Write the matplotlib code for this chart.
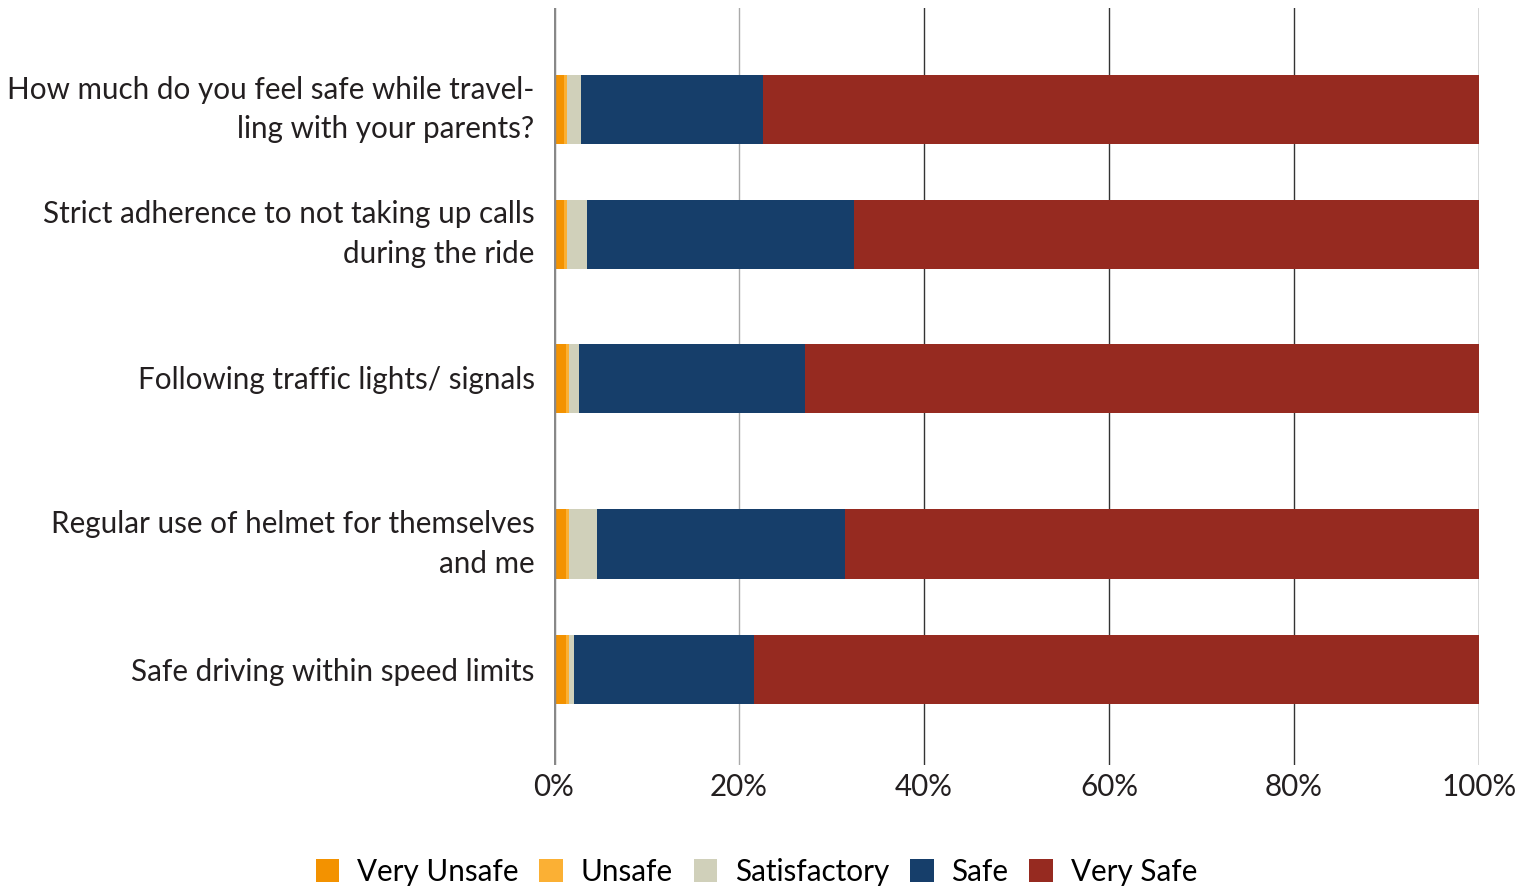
import numpy as np
import matplotlib
import matplotlib.pyplot as plt
import matplotlib.transforms as mtransforms

matplotlib.rcParams.update({'font.family': ['Lato', 'DejaVu Sans'], 'font.size': 21})

questions = ["How much do you feel safe while travel-\nling with your parents?",
             "Strict adherence to not taking up calls\nduring the ride",
             "Following traffic lights/ signals",
             "Regular use of helmet for themselves\nand me",
             "Safe driving within speed limits"]
categories = ["Very Unsafe", "Unsafe", "Satisfactory", "Safe", "Very Safe"]
very_unsafe  = [1.1, 1.1, 1.3, 1.3, 1.3]
unsafe       = [0.3, 0.3, 0.3, 0.3, 0.3]
satisfactory = [1.5, 2.2, 1.1, 3.1, 0.6]
safe         = [19.7, 28.8, 24.4, 26.8, 19.4]
very_safe    = [77.4, 67.6, 72.9, 68.5, 78.4]

colors = ['#F39200', '#FBB034', '#D0D0BA', '#163E6A', '#962A20']
# row centres (uneven spacing as in the original)
ypos = [0.0, 1.0, 2.152, 3.48, 4.48]

fig = plt.figure(figsize=(15.28, 8.89), dpi=100)
ax = fig.add_axes([554/1528, 1-765/889, 925/1528, 757/889])

series = [very_unsafe, unsafe, satisfactory, safe, very_safe]
left = np.zeros(len(questions))
for vals, col, lab in zip(series, colors, categories):
    ax.barh(ypos, vals, left=left, height=0.552, color=col, label=lab, zorder=3)
    left += np.array(vals)

ax.set_xlim(0, 100)
ax.set_ylim(5.248, -0.808)
ax.set_xticks([0, 20, 40, 60, 80, 100])
ax.set_xticklabels([f"{v}%" for v in [0, 20, 40, 60, 80, 100]])
ax.set_yticks(ypos)
ax.set_yticklabels(questions, linespacing=1.5)
ax.tick_params(length=0, colors='#231F20', labelsize=21.3)
ax.tick_params(axis='y', pad=14)
ax.tick_params(axis='x', pad=6)

# nudge the two-line labels up a little so they sit centred on the bars
shift = mtransforms.ScaledTranslation(0, 0.08, fig.dpi_scale_trans)
for lbl in ax.get_yticklabels():
    if "\n" in lbl.get_text():
        lbl.set_transform(lbl.get_transform() + shift)

for s in ax.spines.values():
    s.set_visible(False)
for x in [40, 60, 80, 100]:
    ax.axvline(x, color='#333333', lw=1.0, zorder=1)
ax.axvline(20, color='#AAAAAA', lw=1.0, zorder=1)
ax.axvline(0, color='#888888', lw=2.5, zorder=4)

fig.legend(loc='center', bbox_to_anchor=(0.495, 1 - 872/889),
           ncol=5, frameon=False, handlelength=0.8, handleheight=0.8,
           columnspacing=0.7, handletextpad=0.6, fontsize=21.3, borderpad=0)

fig.savefig("out.png", dpi=100)
